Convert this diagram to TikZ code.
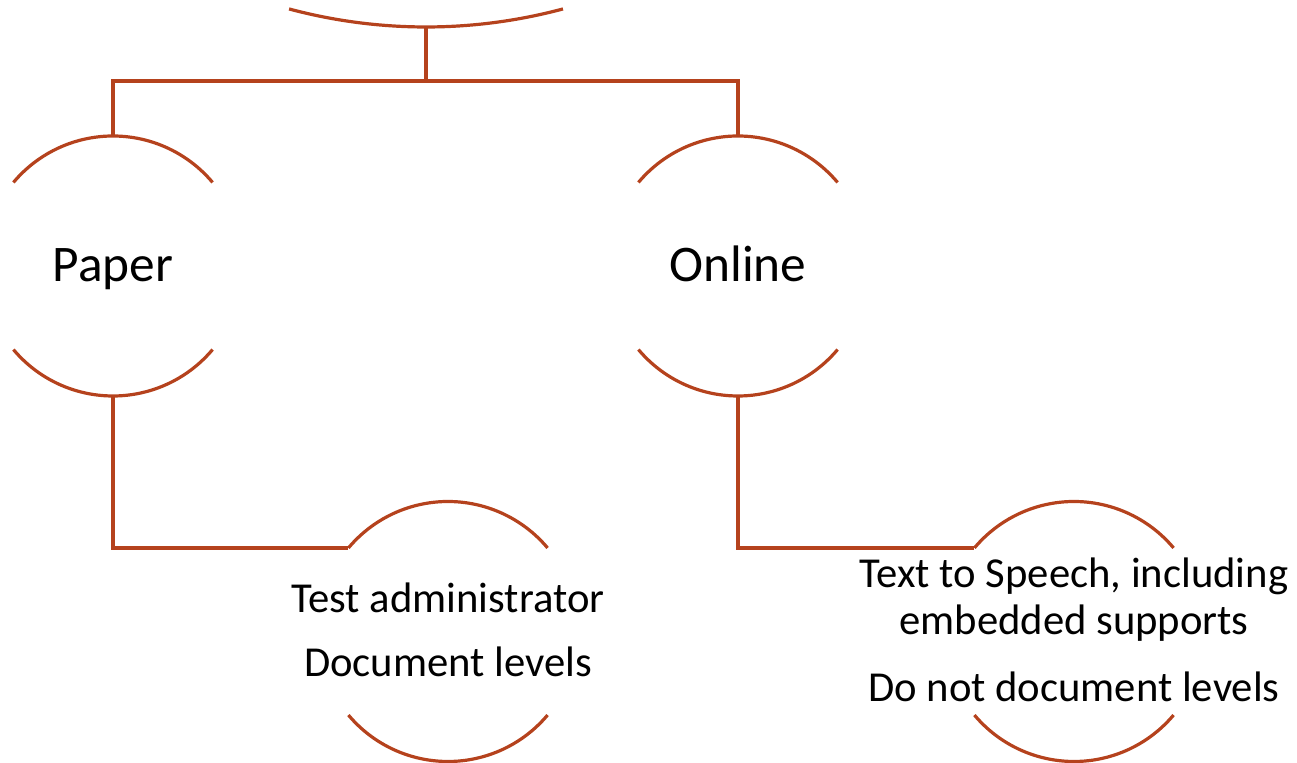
\documentclass[tikz,border=0pt]{standalone}
\usepackage{fontspec}
\setmainfont{Carlito}
\definecolor{rust}{RGB}{181,66,29}
\begin{document}
\begin{tikzpicture}[x=0.75pt,y=0.75pt,
  arcline/.style={draw=rust, line width=2.4pt},
  conn/.style={draw=rust, line width=2.4pt},
  bub/.style={circle, minimum size=195pt, inner sep=0pt, outer sep=0pt},
  bigtxt/.style={font=\fontsize{38.5}{46}\selectfont, inner sep=0pt},
  smalltxt/.style={font=\fontsize{32}{35.25}\selectfont, align=center, inner sep=0pt}]
\useasboundingbox (0,0) rectangle (1297,763);
% nodes
\node[circle, minimum size=793.5pt, inner sep=0pt, outer sep=0pt] (root) at (426,1265) {};
\node[bub] (paper) at (113,497) {};
\node[bub] (online) at (738,497) {};
\node[bub] (ta) at (448,131.5) {};
\node[bub] (tts) at (1074,131.5) {};
% arcs
\draw[arcline] (root.255) arc[start angle=255, end angle=285, radius=396.75pt];
\foreach \n in {paper,online,ta,tts}{
  \draw[arcline] (\n.40) arc[start angle=40, end angle=140, radius=97.5pt];
  \draw[arcline] (\n.220) arc[start angle=220, end angle=320, radius=97.5pt];
}
% texts
\node[bigtxt, anchor=base] (papertxt) at (113,481) {Paper};
\node[bigtxt, anchor=base] (onlinetxt) at (738,481) {Online};
\node[smalltxt, anchor=base] (tatxt) at (448,86) {Test administrator\\[12.75pt]Document levels};
\node[smalltxt, anchor=base] (ttstxt) at (1074,61) {Text to Speech, including\\embedded supports\\[15pt]Do not document levels};
% connectors
\coordinate (j) at (426,682);
\draw[conn] (root.south) -- (j);
\draw[conn] (paper.north) |- (j) -| (online.north);
\draw[conn] (paper.south) |- (ta.140);
\draw[conn] (online.south) |- (tts.140);
\end{tikzpicture}
\end{document}
